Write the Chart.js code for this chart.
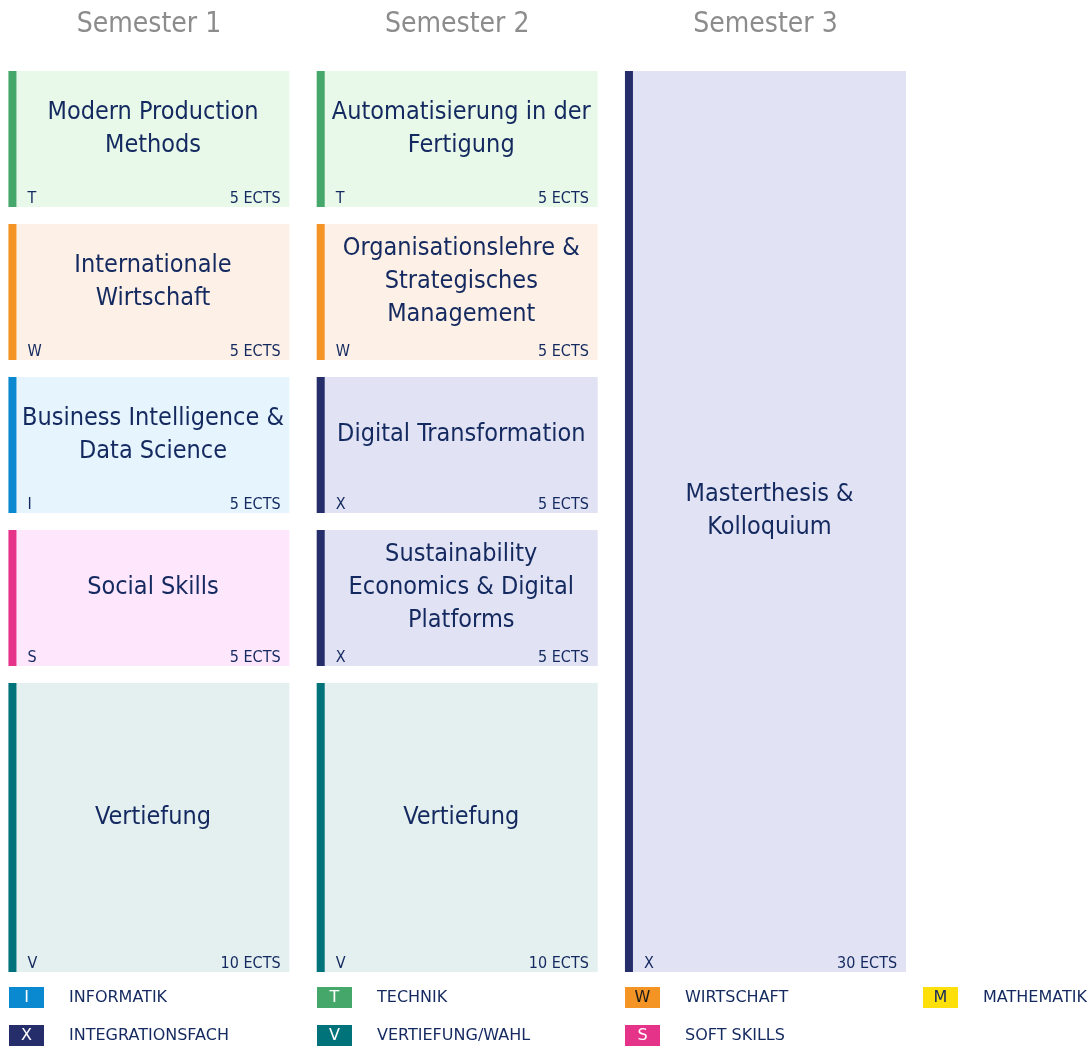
<!DOCTYPE html>
<html>
<head>
<meta charset="utf-8">
<script src="https://cdn.jsdelivr.net/npm/chart.js@4"></script>
<style>
  html, body { margin: 0; padding: 0; background: #fff; }
  #wrap { width: 1089px; height: 1046px; }
</style>
</head>
<body>
<div id="wrap"><canvas id="plan"></canvas></div>
<script>
// semesters (x ticks)
const semesters = ['Semester 1', 'Semester 2', 'Semester 3'];

// modules, one bar each
const modules = [
  'Modern Production\nMethods',
  'Internationale\nWirtschaft',
  'Business Intelligence &\nData Science',
  'Social Skills',
  'Vertiefung',
  'Automatisierung in der\nFertigung',
  'Organisationslehre &\nStrategisches\nManagement',
  'Digital Transformation',
  'Sustainability\nEconomics & Digital\nPlatforms',
  'Vertiefung',
  'Masterthesis &\nKolloquium'
];
const moduleSemester = [0, 0, 0, 0, 0, 1, 1, 1, 1, 1, 2];
const moduleStart = [0, 5, 10, 15, 20, 0, 5, 10, 15, 20, 0];
const moduleEcts = [5, 5, 5, 5, 10, 5, 5, 5, 5, 10, 30];
const moduleType = ['T', 'W', 'I', 'S', 'V', 'T', 'W', 'X', 'X', 'V', 'X'];

// legend
const legendCodes = ['I', 'T', 'W', 'M', 'X', 'V', 'S'];
const legendNames = ['INFORMATIK', 'TECHNIK', 'WIRTSCHAFT', 'MATHEMATIK', 'INTEGRATIONSFACH', 'VERTIEFUNG/WAHL', 'SOFT SKILLS'];

const FONT = '"DejaVu Sans Condensed", "DejaVu Sans", sans-serif';
const NAVY = '#13295f';

const typeStyle = {
  I: { accent: '#0a89d0', bg: '#e6f4fd', letter: '#fff' },
  T: { accent: '#45a86a', bg: '#e9f9e9', letter: '#fff' },
  W: { accent: '#f39425', bg: '#fdf0e6', letter: '#1a1a1a' },
  M: { accent: '#fde00a', bg: '#fffbe0', letter: NAVY },
  X: { accent: '#262d6b', bg: '#e1e2f3', letter: '#fff' },
  V: { accent: '#00727a', bg: '#e4eff0', letter: '#fff' },
  S: { accent: '#e6338a', bg: '#fee6fd', letter: '#fff' }
};

const GAP = 17;     // white space under each block
const ACCENT = 8;   // left colour strip

const boxText = {
  id: 'boxText',
  afterDatasetsDraw(chart) {
    const ctx = chart.ctx;
    const xs = chart.scales.x;

    // semester headings at the x positions of the scale
    ctx.save();
    ctx.fillStyle = '#8c8c8c';
    ctx.font = '28px ' + FONT;
    ctx.textAlign = 'center';
    ctx.textBaseline = 'middle';
    semesters.forEach((s, i) => ctx.fillText(s, xs.getPixelForValue(i), 25));
    ctx.restore();

    const meta = chart.getDatasetMeta(0);
    meta.data.forEach((bar, i) => {
      const p = bar.getProps(['x', 'y', 'base', 'width'], true);
      const left = p.x - p.width / 2;
      const right = p.x + p.width / 2;
      const top = Math.min(p.y, p.base);
      const bottom = Math.max(p.y, p.base) - GAP;
      const st = typeStyle[moduleType[i]];

      ctx.save();
      ctx.fillStyle = st.accent;
      ctx.fillRect(left, top, ACCENT, bottom - top);

      // title
      ctx.fillStyle = NAVY;
      ctx.font = '25px ' + FONT;
      ctx.textAlign = 'center';
      ctx.textBaseline = 'middle';
      const lines = modules[i].split('\n');
      const lh = 33;
      const cy = (top + bottom) / 2 - 10.5;
      lines.forEach((l, k) => {
        ctx.fillText(l, p.x + ACCENT / 2, cy + (k - (lines.length - 1) / 2) * lh);
      });

      // type + ects
      ctx.font = '16px ' + FONT;
      ctx.textBaseline = 'alphabetic';
      ctx.textAlign = 'left';
      ctx.fillText(moduleType[i], left + 19, bottom - 4);
      ctx.textAlign = 'right';
      ctx.fillText(moduleEcts[i] + ' ECTS', right - 9, bottom - 4);
      ctx.restore();
    });
  },
  afterDraw(chart) {
    const ctx = chart.ctx;
    const colX = [9, 317, 625, 923];
    const rowY = [987, 1025];
    ctx.save();
    legendCodes.forEach((c, i) => {
      const x = colX[i % 4];
      const y = rowY[Math.floor(i / 4)];
      const st = typeStyle[c];
      ctx.fillStyle = st.accent;
      ctx.fillRect(x, y, 35, 21);
      ctx.font = '16px "DejaVu Sans", sans-serif';
      ctx.textAlign = 'center';
      ctx.textBaseline = 'middle';
      ctx.fillStyle = st.letter;
      ctx.fillText(c, x + 17.5, y + 11);
      ctx.textAlign = 'left';
      ctx.fillStyle = NAVY;
      ctx.fillText(legendNames[i], x + 60, y + 11);
    });
    ctx.restore();
  }
};

const points = modules.map((m, i) => ({
  x: moduleSemester[i],
  y: [moduleStart[i], moduleStart[i] + moduleEcts[i]]
}));

new Chart(document.getElementById('plan'), {
  type: 'bar',
  data: {
    datasets: [{
      data: points,
      backgroundColor: moduleType.map(t => typeStyle[t].bg),
      borderColor: '#fff',
      borderWidth: { top: 0, left: 0, right: 0, bottom: GAP },
      borderSkipped: false,
      barPercentage: 0.912,
      categoryPercentage: 1
    }]
  },
  options: {
    responsive: true,
    maintainAspectRatio: false,
    animation: false,
    layout: { padding: { top: 71, bottom: 57, left: 0, right: 0 } },
    plugins: { legend: { display: false }, tooltip: { enabled: false } },
    scales: {
      x: {
        type: 'linear',
        display: false,
        offset: false,
        min: -0.4834,
        max: 3.0494,
        ticks: { stepSize: 1, includeBounds: false }
      },
      y: {
        reverse: true,
        min: 0,
        max: 30,
        display: false
      }
    }
  },
  plugins: [boxText]
});
</script>
</body>
</html>
